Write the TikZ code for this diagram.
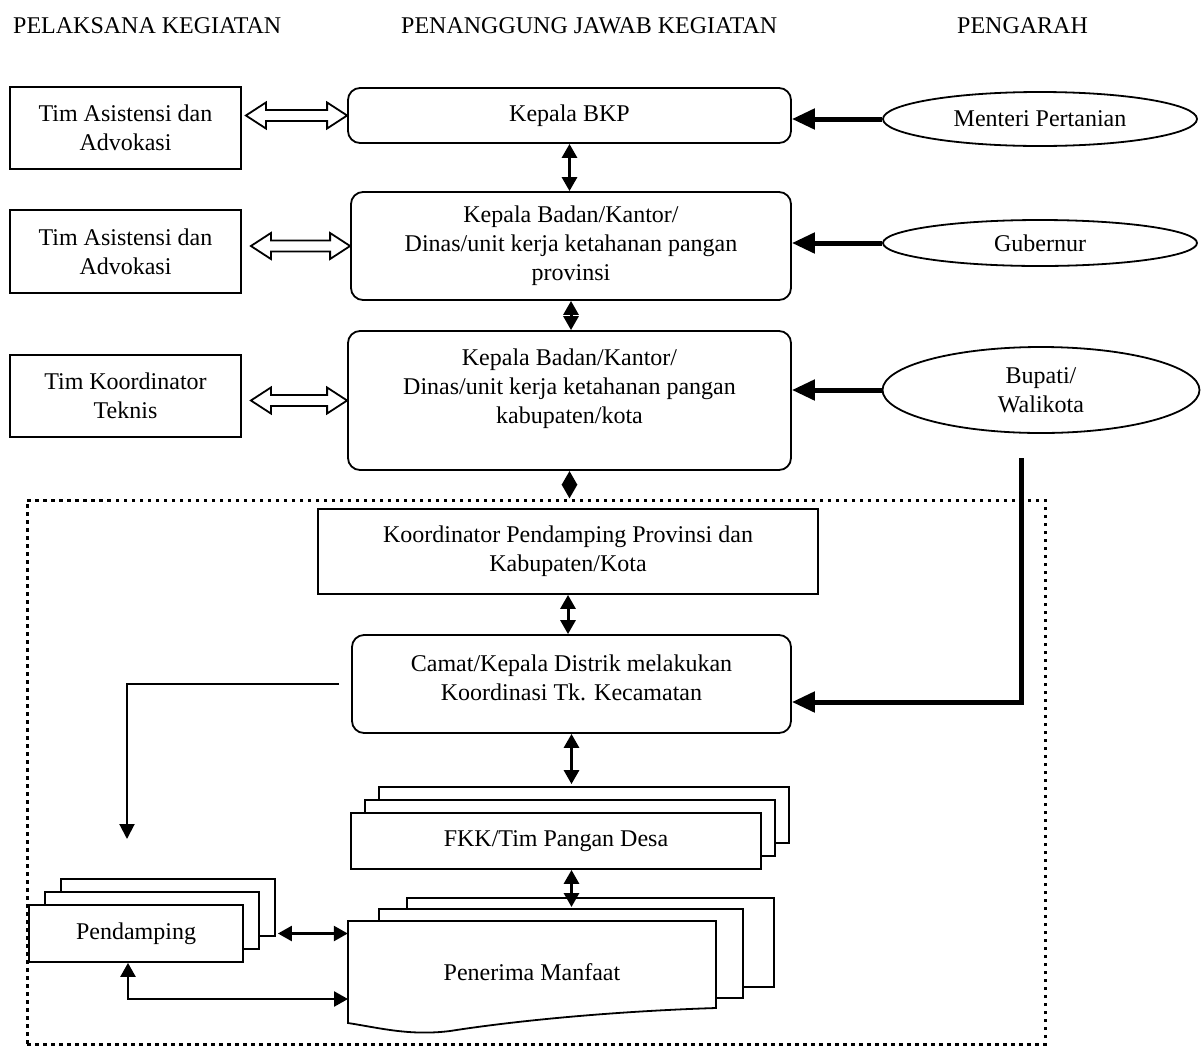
\documentclass[tikz,border=0pt]{standalone}
\usepackage{fontspec}
\setmainfont{Liberation Serif}
\usetikzlibrary{arrows.meta}
\usetikzlibrary{shapes.geometric}
\usetikzlibrary{shadows}
\usetikzlibrary{calc}

% open block arrow with a head at both ends
\newcommand{\hollowlink}[2]{%
  \draw[hollow] let \p1=(#1), \p2=(#2) in
    (\x1,\y2) -- ++(20pt,13pt) -- ++(0pt,-7.5pt) -- (\x2-20pt,\y2+5.5pt) -- ++(0pt,7.5pt)
    -- (\x2,\y2) -- ++(-20pt,-13pt) -- ++(0pt,7.5pt) -- (\x1+20pt,\y2-5.5pt) -- ++(0pt,-7.5pt) -- cycle;}

\begin{document}
\begin{tikzpicture}[x=1pt, y=-1pt,
  font=\fontsize{24}{29}\selectfont,
  box/.style={rectangle,draw=black,line width=1.8pt,fill=white,align=center,inner sep=0pt},
  rbox/.style={box,rounded corners=12pt},
  oval/.style={ellipse,draw=black,line width=1.8pt,align=center,inner sep=0pt},
  stack/.style={box,double copy shadow={shadow xshift=#1pt,shadow yshift=13pt}},
  link/.style={{Triangle[length=14pt,width=15pt]}-{Triangle[length=14pt,width=15pt]},line width=3pt},
  fat/.style={-{Triangle[length=23pt,width=20pt]},line width=5pt},
  lead/.style={-{Triangle[length=15pt,width=15pt]},line width=2pt},
  hollow/.style={draw=black,line width=1.8pt,fill=white,line join=miter},
  dotframe/.style={rectangle,draw=black,line width=3pt,dash pattern=on 3.5pt off 4.5pt},
  head/.style={anchor=base west,inner sep=0pt}]
\useasboundingbox (0,0) rectangle (1204,1047);

% column headings
\node at (13,33)  (hpel) [head] {PELAKSANA KEGIATAN};
\node at (401,33) (hpj)  [head] {PENANGGUNG JAWAB KEGIATAN};
\node at (957,33) (hpen) [head] {PENGARAH};

% upper levels
\node at (125.5,128)   (tim1) [box,minimum width=231pt,minimum height=82pt] {Tim Asistensi dan\\Advokasi};
\node at (569.5,115.5) (bkp)  [rbox,minimum width=443pt,minimum height=55pt] {Kepala BKP};
\node at (1040,119)    (men)  [oval,minimum width=314pt,minimum height=54pt] {Menteri Pertanian};

\node at (125.5,251.5) (tim2) [box,minimum width=231pt,minimum height=83pt] {Tim Asistensi dan\\Advokasi};
\node at (571,246)     (kab1) [rbox,minimum width=440pt,minimum height=108pt] {Kepala Badan/Kantor/\\Dinas/unit kerja ketahanan pangan\\provinsi};
\node at (1040,243)    (gub)  [oval,minimum width=314pt,minimum height=46pt] {Gubernur};

\node at (125.5,396)   (tim3) [box,minimum width=231pt,minimum height=82pt] {Tim Koordinator\\Teknis};
\node at (569.5,400.5) (kab2) [rbox,minimum width=443pt,minimum height=139pt,
  label={[align=center,yshift=12pt]center:{Kepala Badan/Kantor/\\Dinas/unit kerja ketahanan pangan\\kabupaten/kota}}] {};
\node at (1041,390)    (bup)  [oval,minimum width=317pt,minimum height=86pt] {Bupati/\\Walikota};

% field level
\node at (536,772)   (frame) [dotframe,minimum width=1018pt,minimum height=544pt] {};
\node at (568,551.5) (kpp)   [box,minimum width=500pt,minimum height=85pt] {Koordinator Pendamping Provinsi dan\\Kabupaten/Kota};
\node at (571.5,684) (camat) [rbox,minimum width=439pt,minimum height=98pt,
  label={[align=center,yshift=6pt]center:{Camat/Kepala Distrik melakukan\\Koordinasi Tk. Kecamatan}}] {};
\node at (556,841)   (fkk)   [stack=14,minimum width=410pt,minimum height=56pt] {FKK/Tim Pangan Desa};
\node at (136,933.5) (pd)    [stack=16,minimum width=214pt,minimum height=57pt] {Pendamping};

\draw[hollow] (407,898) rectangle (774,987);
\draw[hollow] (379,909) rectangle (743,998);
\draw[hollow] (348,921) -- (716,921) -- (716,1008) .. controls (620,1011) and (520,1020) .. (450,1031)
  .. controls (410,1036) and (380,1028) .. (348,1023) -- cycle;
\node at (532,972) (pm) [minimum width=368pt,minimum height=102pt,inner sep=0pt] {Penerima Manfaat};

% links
\hollowlink{[xshift=4pt]tim1.east}{bkp.west}
\hollowlink{[xshift=9pt]tim2.east}{kab1.west}
\hollowlink{[xshift=9pt]tim3.east}{kab2.west}

\draw[fat] (men.west) -- (bkp.east |- men.west);
\draw[fat] (gub.west) -- (kab1.east |- gub.west);
\draw[fat] (bup.west) -- (kab2.east |- bup.west);
\coordinate (bupfoot) at (1021,458);
\draw[fat] (bupfoot) |- ([yshift=-18pt]camat.east);

\draw[link] (bkp.south) -- (bkp.south |- kab1.north);
\draw[link] (kab1.south) -- (kab1.south |- kab2.north);
\draw[link] (kab2.south) -- (kab2.south |- frame.north);
\draw[link] (kpp.south) -- (kpp.south |- camat.north);
\coordinate (fkkback) at ([yshift=28pt]fkk.north);
\draw[link] (camat.south) -- (camat.south |- fkkback);
\coordinate (pmback) at (570,907);
\draw[link] (camat.south |- fkk.south) -- (camat.south |- pmback);

\coordinate (pdtop) at (127,839);
\draw[lead] ([xshift=-12pt]camat.west) -| (pdtop);
\draw[link,line width=2.5pt] ([xshift=34pt]pd.east) -- (pm.west |- pd.east);
\coordinate (pmlow) at (348,999);
\draw[link,line width=2.5pt] ([xshift=-8pt]pd.south) |- (pmlow);
\end{tikzpicture}
\end{document}
